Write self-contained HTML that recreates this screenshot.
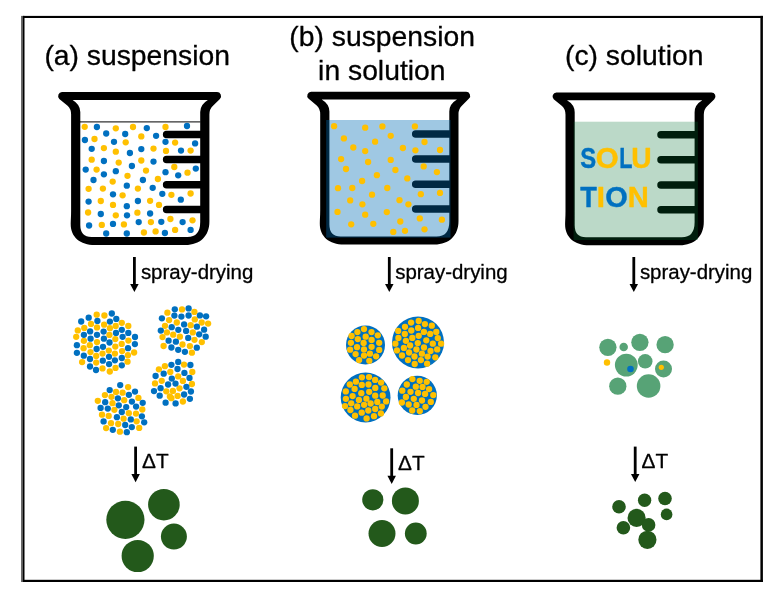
<!DOCTYPE html>
<html lang="en">
<head>
<meta charset="utf-8">
<title>Spray-drying routes: suspension, suspension in solution, solution</title>
<style>
  html, body { margin: 0; padding: 0; background: #fff; }
  body { width: 773px; height: 593px; overflow: hidden; }
  svg { display: block; will-change: transform; }
  text { font-family: "Liberation Sans", Arial, Helvetica, sans-serif; fill: #000; stroke: #000; stroke-width: 0.3px; stroke-linejoin: round; }
  .title { font-size: 28.3px; }
  .label { font-size: 20.45px; }
  .dt { font-size: 20.8px; }
  .sol text { font-weight: bold; font-size: 29.6px; stroke-width: 0.45px; }
</style>
</head>
<body>
<svg width="773" height="593" viewBox="0 0 773 593" role="img" aria-label="Spray-drying of a suspension, a suspension in solution, and a solution">
  <rect width="773" height="593" fill="#fff"/>
  <g id="frame">
    <rect x="21" y="15.9" width="2.4" height="566.1" fill="#6a6a6a"/>
    <rect x="22.9" y="15.9" width="740" height="2.1" fill="#000"/>
    <rect x="22.9" y="579.8" width="740" height="2.2" fill="#000"/>
    <rect x="22.9" y="15.9" width="1.6" height="566.1" fill="#000"/>
    <rect x="760.4" y="15.9" width="2.5" height="566.1" fill="#000"/>
  </g>

  <text class="title" x="44.4" y="65">(a) suspension</text>
  <text class="title" x="289.3" y="46">(b) suspension</text>
  <text class="title" x="318.1" y="80">in solution</text>
  <text class="title" x="565" y="65">(c) solution</text>
  <g id="col-a">
    <path d="M80 121.8H200.5" stroke="#333" stroke-width="1.3" fill="none"/>
    <g fill="#FFC000">
      <circle cx="84.7" cy="126.8" r="3.15"/><circle cx="115.8" cy="128.3" r="3.15"/><circle cx="133" cy="127" r="3.15"/><circle cx="165.5" cy="127" r="3.15"/><circle cx="141.3" cy="136.4" r="3.15"/><circle cx="94.5" cy="139" r="3.15"/><circle cx="125.7" cy="142.3" r="3.15"/><circle cx="175.1" cy="142.6" r="3.15"/><circle cx="103.9" cy="148.1" r="3.15"/><circle cx="115.8" cy="151.7" r="3.15"/><circle cx="153.5" cy="148.6" r="3.15"/><circle cx="166" cy="150.9" r="3.15"/><circle cx="190.6" cy="150.6" r="3.15"/><circle cx="91.7" cy="159.7" r="3.15"/><circle cx="118.7" cy="162.6" r="3.15"/><circle cx="141.3" cy="160.5" r="3.15"/><circle cx="174.3" cy="167" r="3.15"/><circle cx="96.6" cy="169.6" r="3.15"/><circle cx="127.5" cy="175.8" r="3.15"/><circle cx="146" cy="170.6" r="3.15"/><circle cx="187.5" cy="172.7" r="3.15"/><circle cx="112.7" cy="181.6" r="3.15"/><circle cx="157.9" cy="179" r="3.15"/><circle cx="88.6" cy="188.8" r="3.15"/><circle cx="102.9" cy="188.6" r="3.15"/><circle cx="137.9" cy="188.6" r="3.15"/><circle cx="171.4" cy="194.8" r="3.15"/><circle cx="190.6" cy="193.5" r="3.15"/><circle cx="122.6" cy="195.3" r="3.15"/><circle cx="100.8" cy="201" r="3.15"/><circle cx="113" cy="204.9" r="3.15"/><circle cx="150.1" cy="200.8" r="3.15"/><circle cx="159" cy="204.9" r="3.15"/><circle cx="88.1" cy="212.5" r="3.15"/><circle cx="115.8" cy="215.3" r="3.15"/><circle cx="137.4" cy="212.7" r="3.15"/><circle cx="170.4" cy="219" r="3.15"/><circle cx="192.5" cy="220.3" r="3.15"/><circle cx="101.8" cy="224.9" r="3.15"/><circle cx="123.9" cy="224.4" r="3.15"/><circle cx="150.9" cy="222.1" r="3.15"/><circle cx="175.1" cy="229.9" r="3.15"/><circle cx="143.9" cy="232.5" r="3.15"/><circle cx="155.6" cy="231.4" r="3.15"/>
    </g>
    <g fill="#0070C0">
      <circle cx="96.9" cy="127" r="3.15"/><circle cx="146.8" cy="128.1" r="3.15"/><circle cx="187" cy="126" r="3.15"/><circle cx="106.2" cy="133.5" r="3.15"/><circle cx="125.2" cy="134" r="3.15"/><circle cx="156.1" cy="135.8" r="3.15"/><circle cx="84.9" cy="140" r="3.15"/><circle cx="114" cy="141.8" r="3.15"/><circle cx="165.5" cy="141.8" r="3.15"/><circle cx="195.1" cy="143.4" r="3.15"/><circle cx="91.7" cy="148.8" r="3.15"/><circle cx="129.9" cy="153" r="3.15"/><circle cx="141.3" cy="149.1" r="3.15"/><circle cx="181" cy="150.6" r="3.15"/><circle cx="103.9" cy="161" r="3.15"/><circle cx="131.9" cy="166" r="3.15"/><circle cx="153.5" cy="161.6" r="3.15"/><circle cx="195.8" cy="168.6" r="3.15"/><circle cx="85.7" cy="169.6" r="3.15"/><circle cx="103.9" cy="174.3" r="3.15"/><circle cx="115.8" cy="171.2" r="3.15"/><circle cx="165.5" cy="172.2" r="3.15"/><circle cx="178.2" cy="175.3" r="3.15"/><circle cx="93.5" cy="180" r="3.15"/><circle cx="142.9" cy="180" r="3.15"/><circle cx="126.8" cy="185.7" r="3.15"/><circle cx="152.7" cy="187.8" r="3.15"/><circle cx="162.3" cy="193.8" r="3.15"/><circle cx="113" cy="194.3" r="3.15"/><circle cx="88.6" cy="201.6" r="3.15"/><circle cx="126.8" cy="206.2" r="3.15"/><circle cx="137.9" cy="201" r="3.15"/><circle cx="180.8" cy="199.7" r="3.15"/><circle cx="100.8" cy="214" r="3.15"/><circle cx="127" cy="215.3" r="3.15"/><circle cx="150.1" cy="213.5" r="3.15"/><circle cx="89.1" cy="225.5" r="3.15"/><circle cx="113" cy="223.9" r="3.15"/><circle cx="138.7" cy="222.1" r="3.15"/><circle cx="161.3" cy="221.8" r="3.15"/><circle cx="182.6" cy="222.1" r="3.15"/><circle cx="190.6" cy="229.9" r="3.15"/><circle cx="106.2" cy="233.5" r="3.15"/><circle cx="126.8" cy="233.5" r="3.15"/><circle cx="164.9" cy="233" r="3.15"/>
    </g>
    <g class="beaker"><path fill="#000" fill-rule="evenodd" d="M62 92.1H217A4 4 0 0 1 219.9 98.9L213 105.8Q209.4 109 209.4 114.5V221.5C209.4 236 200 245 185.4 245H95C80 245 70.7 237 70.7 224C70.7 220 71.1 217 71.1 211V114.5Q71.1 109 67.6 105.8L59.3 98.9A4 4 0 0 1 62 92.1ZM72.6 100Q80.3 104.5 80.3 112V225Q80.3 237 91.5 237H187.4Q200.2 237 200.2 222V112Q200.2 104.5 207.9 100Z"/><path fill="none" stroke="#000" stroke-width="7.5" stroke-linecap="round" d="M166.6 134.4H202M166.6 159.5H202M166.6 184.7H202M166.6 209.4H202"/></g>
    <path d="M134.4 257V285.0" stroke="#000" stroke-width="2.8" fill="none"/><path d="M130.15 284.0H138.65L134.4 292.1Z" fill="#000"/>
    <text class="label" x="140.9" y="278.6">spray-drying</text>
    <g fill="#FFC000">
      <circle cx="96.7" cy="314.7" r="3.15"/><circle cx="104.4" cy="315.5" r="3.15"/><circle cx="91" cy="323.9" r="3.15"/><circle cx="104.1" cy="324.7" r="3.15"/><circle cx="121.8" cy="322.8" r="3.15"/><circle cx="84.3" cy="327.9" r="3.15"/><circle cx="97" cy="327.4" r="3.15"/><circle cx="109.9" cy="328.2" r="3.15"/><circle cx="115.7" cy="325.9" r="3.15"/><circle cx="128.3" cy="325.9" r="3.15"/><circle cx="77.8" cy="330.4" r="3.15"/><circle cx="109.4" cy="334.9" r="3.15"/><circle cx="76.2" cy="336.8" r="3.15"/><circle cx="115.3" cy="339.1" r="3.15"/><circle cx="83.9" cy="340.8" r="3.15"/><circle cx="97" cy="342.1" r="3.15"/><circle cx="128.4" cy="340.6" r="3.15"/><circle cx="89.8" cy="345.2" r="3.15"/><circle cx="115.3" cy="346.6" r="3.15"/><circle cx="121.7" cy="343.9" r="3.15"/><circle cx="83.6" cy="348.2" r="3.15"/><circle cx="108.8" cy="350.6" r="3.15"/><circle cx="90.5" cy="352.1" r="3.15"/><circle cx="102.5" cy="353.6" r="3.15"/><circle cx="114.9" cy="353.6" r="3.15"/><circle cx="122.1" cy="351.1" r="3.15"/><circle cx="134.1" cy="352.5" r="3.15"/><circle cx="96.2" cy="356" r="3.15"/><circle cx="127.9" cy="355.2" r="3.15"/><circle cx="82.1" cy="362.1" r="3.15"/><circle cx="96.2" cy="362.6" r="3.15"/><circle cx="127.5" cy="361.7" r="3.15"/><circle cx="102.5" cy="368.4" r="3.15"/><circle cx="115.5" cy="367.9" r="3.15"/><circle cx="109.8" cy="371.5" r="3.15"/>
    </g>
    <g fill="#0070C0">
      <circle cx="111.8" cy="313.5" r="3.15"/><circle cx="88.7" cy="317.7" r="3.15"/><circle cx="116.3" cy="318.9" r="3.15"/><circle cx="81.2" cy="321.5" r="3.15"/><circle cx="97.4" cy="320.9" r="3.15"/><circle cx="109.9" cy="321.6" r="3.15"/><circle cx="90.1" cy="331.4" r="3.15"/><circle cx="103.6" cy="331.6" r="3.15"/><circle cx="116" cy="332.9" r="3.15"/><circle cx="121.8" cy="329.8" r="3.15"/><circle cx="128.3" cy="332.9" r="3.15"/><circle cx="83.9" cy="334.8" r="3.15"/><circle cx="97" cy="334.8" r="3.15"/><circle cx="122.6" cy="336.8" r="3.15"/><circle cx="90.6" cy="338.7" r="3.15"/><circle cx="103.9" cy="338.7" r="3.15"/><circle cx="135" cy="337" r="3.15"/><circle cx="109.5" cy="342.5" r="3.15"/><circle cx="76.9" cy="345.2" r="3.15"/><circle cx="103" cy="346.8" r="3.15"/><circle cx="134.9" cy="344.1" r="3.15"/><circle cx="96.6" cy="349" r="3.15"/><circle cx="128" cy="348.2" r="3.15"/><circle cx="76.9" cy="352.8" r="3.15"/><circle cx="83.8" cy="355.7" r="3.15"/><circle cx="109" cy="356.8" r="3.15"/><circle cx="90" cy="359" r="3.15"/><circle cx="102.8" cy="360.7" r="3.15"/><circle cx="114.9" cy="360.3" r="3.15"/><circle cx="121.8" cy="358" r="3.15"/><circle cx="109.1" cy="364.1" r="3.15"/><circle cx="90" cy="366.5" r="3.15"/><circle cx="121.8" cy="365.3" r="3.15"/><circle cx="96" cy="370" r="3.15"/>
    </g>
    <g fill="#FFC000">
      <circle cx="167.4" cy="312.7" r="3.15"/><circle cx="182" cy="309.4" r="3.15"/><circle cx="194.4" cy="311.9" r="3.15"/><circle cx="169.1" cy="320.1" r="3.15"/><circle cx="176.8" cy="322.5" r="3.15"/><circle cx="194.8" cy="319.4" r="3.15"/><circle cx="201.7" cy="322.5" r="3.15"/><circle cx="208.1" cy="323.6" r="3.15"/><circle cx="165" cy="325.8" r="3.15"/><circle cx="190.7" cy="325.2" r="3.15"/><circle cx="166.9" cy="332.4" r="3.15"/><circle cx="173.2" cy="334.7" r="3.15"/><circle cx="192.8" cy="332.4" r="3.15"/><circle cx="162.5" cy="337.1" r="3.15"/><circle cx="179.9" cy="336.7" r="3.15"/><circle cx="194.5" cy="339.8" r="3.15"/><circle cx="201.8" cy="342.1" r="3.15"/><circle cx="163.6" cy="346" r="3.15"/><circle cx="182.5" cy="344.5" r="3.15"/><circle cx="189.9" cy="346.1" r="3.15"/><circle cx="191.9" cy="352.7" r="3.15"/>
    </g>
    <g fill="#0070C0">
      <circle cx="174.8" cy="309.3" r="3.15"/><circle cx="188.6" cy="308.4" r="3.15"/><circle cx="161.9" cy="318.3" r="3.15"/><circle cx="174.4" cy="315.6" r="3.15"/><circle cx="181.4" cy="316.6" r="3.15"/><circle cx="188.6" cy="315.5" r="3.15"/><circle cx="199.9" cy="315.4" r="3.15"/><circle cx="206.1" cy="316.3" r="3.15"/><circle cx="171.7" cy="327.2" r="3.15"/><circle cx="184.1" cy="324.4" r="3.15"/><circle cx="196.9" cy="326.7" r="3.15"/><circle cx="160.8" cy="330.6" r="3.15"/><circle cx="178.3" cy="329.8" r="3.15"/><circle cx="186.1" cy="330.9" r="3.15"/><circle cx="204.1" cy="329.7" r="3.15"/><circle cx="199.2" cy="334.3" r="3.15"/><circle cx="188.2" cy="337.9" r="3.15"/><circle cx="205.7" cy="336.7" r="3.15"/><circle cx="168.6" cy="340.7" r="3.15"/><circle cx="175.9" cy="341.7" r="3.15"/><circle cx="171.4" cy="347.5" r="3.15"/><circle cx="178.2" cy="349.8" r="3.15"/><circle cx="196.8" cy="347.7" r="3.15"/><circle cx="184.9" cy="351.8" r="3.15"/>
    </g>
    <g fill="#FFC000">
      <circle cx="184" cy="364.6" r="3.15"/><circle cx="164.9" cy="366.2" r="3.15"/><circle cx="158.9" cy="369.3" r="3.15"/><circle cx="192.3" cy="372" r="3.15"/><circle cx="170.3" cy="372" r="3.15"/><circle cx="178.2" cy="376.4" r="3.15"/><circle cx="161.7" cy="380.8" r="3.15"/><circle cx="182.9" cy="380.9" r="3.15"/><circle cx="155" cy="383.4" r="3.15"/><circle cx="191.9" cy="384" r="3.15"/><circle cx="179.5" cy="388.3" r="3.15"/><circle cx="166.3" cy="391.3" r="3.15"/><circle cx="172.9" cy="390.9" r="3.15"/><circle cx="169.9" cy="396.5" r="3.15"/><circle cx="171.4" cy="398.2" r="3.15"/><circle cx="177.6" cy="395.9" r="3.15"/><circle cx="182.9" cy="401.5" r="3.15"/>
    </g>
    <g fill="#0070C0">
      <circle cx="178.2" cy="361.9" r="3.15"/><circle cx="171.4" cy="364.8" r="3.15"/><circle cx="190.4" cy="365" r="3.15"/><circle cx="177.5" cy="369" r="3.15"/><circle cx="163.7" cy="373.7" r="3.15"/><circle cx="184.4" cy="372.9" r="3.15"/><circle cx="155.6" cy="376" r="3.15"/><circle cx="189.5" cy="377.9" r="3.15"/><circle cx="171.8" cy="378.6" r="3.15"/><circle cx="168.1" cy="384.5" r="3.15"/><circle cx="175.5" cy="383.6" r="3.15"/><circle cx="160.6" cy="388.2" r="3.15"/><circle cx="186.4" cy="386.8" r="3.15"/><circle cx="154" cy="391.1" r="3.15"/><circle cx="190.9" cy="391.5" r="3.15"/><circle cx="159.7" cy="395.7" r="3.15"/><circle cx="184.1" cy="394.5" r="3.15"/><circle cx="189.9" cy="398.8" r="3.15"/><circle cx="165.6" cy="402.7" r="3.15"/><circle cx="175.6" cy="403.4" r="3.15"/>
    </g>
    <g fill="#FFC000">
      <circle cx="128.1" cy="387.1" r="3.15"/><circle cx="116" cy="391.9" r="3.15"/><circle cx="122.6" cy="392.7" r="3.15"/><circle cx="104.9" cy="395.1" r="3.15"/><circle cx="111.5" cy="396.8" r="3.15"/><circle cx="138.4" cy="397.9" r="3.15"/><circle cx="97.8" cy="400.8" r="3.15"/><circle cx="112.5" cy="403.2" r="3.15"/><circle cx="124.2" cy="400.2" r="3.15"/><circle cx="114.4" cy="409.8" r="3.15"/><circle cx="142.3" cy="409.5" r="3.15"/><circle cx="102" cy="414.7" r="3.15"/><circle cx="108.7" cy="415.9" r="3.15"/><circle cx="128.8" cy="413.2" r="3.15"/><circle cx="136" cy="413.6" r="3.15"/><circle cx="123.6" cy="418.7" r="3.15"/><circle cx="136.6" cy="421.3" r="3.15"/><circle cx="111" cy="423.2" r="3.15"/><circle cx="118.2" cy="424" r="3.15"/><circle cx="106.1" cy="428.1" r="3.15"/><circle cx="139.2" cy="427.9" r="3.15"/><circle cx="119.9" cy="431.7" r="3.15"/>
    </g>
    <g fill="#0070C0">
      <circle cx="120.2" cy="385.1" r="3.15"/><circle cx="109.7" cy="390.1" r="3.15"/><circle cx="135" cy="391.6" r="3.15"/><circle cx="128.9" cy="394.8" r="3.15"/><circle cx="117.9" cy="398.3" r="3.15"/><circle cx="105.2" cy="402.2" r="3.15"/><circle cx="131.9" cy="401.6" r="3.15"/><circle cx="142.7" cy="402.8" r="3.15"/><circle cx="100.6" cy="407.9" r="3.15"/><circle cx="107.8" cy="408.6" r="3.15"/><circle cx="118.8" cy="405.3" r="3.15"/><circle cx="126.2" cy="407.1" r="3.15"/><circle cx="136.1" cy="406.6" r="3.15"/><circle cx="121.8" cy="412" r="3.15"/><circle cx="116.9" cy="417.2" r="3.15"/><circle cx="141.9" cy="416.3" r="3.15"/><circle cx="103.6" cy="421.4" r="3.15"/><circle cx="130.8" cy="419.4" r="3.15"/><circle cx="144.2" cy="422.3" r="3.15"/><circle cx="125.2" cy="425" r="3.15"/><circle cx="112.8" cy="429.8" r="3.15"/><circle cx="131.8" cy="427.1" r="3.15"/><circle cx="126.8" cy="432.2" r="3.15"/>
    </g>
    <path d="M135.6 446.6V475.09999999999997" stroke="#000" stroke-width="2.8" fill="none"/><path d="M131.35 474.09999999999997H139.85L135.6 482.2Z" fill="#000"/>
    <text class="dt" x="142" y="468.3">ΔT</text>
    <g fill="#23591B"><circle cx="125.4" cy="519.8" r="19.1"/><circle cx="163.9" cy="504.7" r="15.8"/><circle cx="173.9" cy="536.6" r="13"/><circle cx="137.7" cy="556" r="16.1"/></g>
  </g>
  <g id="col-b">
    <g class="beaker" transform="translate(249.1 -0.4)"><path fill="#000" fill-rule="evenodd" d="M62 92.1H217A4 4 0 0 1 219.9 98.9L213 105.8Q209.4 109 209.4 114.5V221.5C209.4 236 200 245 185.4 245H95C80 245 70.7 237 70.7 224C70.7 220 71.1 217 71.1 211V114.5Q71.1 109 67.6 105.8L59.3 98.9A4 4 0 0 1 62 92.1ZM72.6 100Q80.3 104.5 80.3 112V225Q80.3 237 91.5 237H187.4Q200.2 237 200.2 222V112Q200.2 104.5 207.9 100Z"/><path fill="none" stroke="#000" stroke-width="7.5" stroke-linecap="round" d="M166.6 134.4H202M166.6 159.5H202M166.6 184.7H202M166.6 209.4H202"/></g>
    <rect x="326.2" y="120" width="124.3" height="117.6" fill="#006DB5" fill-opacity="0.376"/>
    <g fill="#FFC000">
      <circle cx="334.1" cy="126.2" r="3.15"/><circle cx="365.2" cy="127.7" r="3.15"/><circle cx="382.4" cy="126.4" r="3.15"/><circle cx="414.9" cy="126.4" r="3.15"/><circle cx="390.7" cy="135.8" r="3.15"/><circle cx="343.9" cy="138.4" r="3.15"/><circle cx="375.1" cy="141.7" r="3.15"/><circle cx="424.5" cy="142" r="3.15"/><circle cx="353.3" cy="147.5" r="3.15"/><circle cx="365.2" cy="151.1" r="3.15"/><circle cx="402.9" cy="148" r="3.15"/><circle cx="415.4" cy="150.3" r="3.15"/><circle cx="440" cy="150" r="3.15"/><circle cx="341.1" cy="159.1" r="3.15"/><circle cx="368.1" cy="162" r="3.15"/><circle cx="390.7" cy="159.9" r="3.15"/><circle cx="423.7" cy="166.4" r="3.15"/><circle cx="346" cy="169" r="3.15"/><circle cx="376.9" cy="175.2" r="3.15"/><circle cx="395.4" cy="170" r="3.15"/><circle cx="436.9" cy="172.1" r="3.15"/><circle cx="362.1" cy="181" r="3.15"/><circle cx="407.3" cy="178.4" r="3.15"/><circle cx="338" cy="188.2" r="3.15"/><circle cx="352.3" cy="188" r="3.15"/><circle cx="387.3" cy="188" r="3.15"/><circle cx="420.8" cy="194.2" r="3.15"/><circle cx="440" cy="192.9" r="3.15"/><circle cx="372" cy="194.7" r="3.15"/><circle cx="350.2" cy="200.4" r="3.15"/><circle cx="362.4" cy="204.3" r="3.15"/><circle cx="399.5" cy="200.2" r="3.15"/><circle cx="408.4" cy="204.3" r="3.15"/><circle cx="337.5" cy="211.9" r="3.15"/><circle cx="365.2" cy="214.7" r="3.15"/><circle cx="386.8" cy="212.1" r="3.15"/><circle cx="419.8" cy="218.4" r="3.15"/><circle cx="441.9" cy="219.7" r="3.15"/><circle cx="351.2" cy="224.3" r="3.15"/><circle cx="373.3" cy="223.8" r="3.15"/><circle cx="400.3" cy="221.5" r="3.15"/><circle cx="424.5" cy="229.3" r="3.15"/><circle cx="393.3" cy="231.9" r="3.15"/><circle cx="405" cy="230.8" r="3.15"/>
    </g>
    <path d="M389.3 257V285.0" stroke="#000" stroke-width="2.8" fill="none"/><path d="M385.05 284.0H393.55L389.3 292.1Z" fill="#000"/>
    <text class="label" x="395.2" y="278.5">spray-drying</text>
    <g fill="#0070C0"><circle cx="365.5" cy="345" r="19.5"/><circle cx="418" cy="342.4" r="26"/><circle cx="365.6" cy="397.5" r="24.9"/><circle cx="417.3" cy="395.4" r="19.6"/></g>
    <g fill="#FFC000">
      <circle cx="364" cy="329.1" r="3.15"/><circle cx="357.4" cy="332.1" r="3.15"/><circle cx="371.5" cy="332.1" r="3.15"/><circle cx="377.8" cy="335.3" r="3.15"/><circle cx="351.6" cy="336" r="3.15"/><circle cx="365.7" cy="336.7" r="3.15"/><circle cx="357.8" cy="339.1" r="3.15"/><circle cx="371.6" cy="339.9" r="3.15"/><circle cx="350.9" cy="342.8" r="3.15"/><circle cx="363.6" cy="342.9" r="3.15"/><circle cx="379.2" cy="342.8" r="3.15"/><circle cx="357" cy="347.2" r="3.15"/><circle cx="371.6" cy="346.8" r="3.15"/><circle cx="350.1" cy="349.7" r="3.15"/><circle cx="364" cy="349.4" r="3.15"/><circle cx="379.2" cy="349.9" r="3.15"/><circle cx="355.6" cy="354.1" r="3.15"/><circle cx="369.9" cy="353.7" r="3.15"/><circle cx="364" cy="355.6" r="3.15"/><circle cx="376.1" cy="356.3" r="3.15"/><circle cx="359.1" cy="360.1" r="3.15"/><circle cx="369.3" cy="360.8" r="3.15"/>
    </g>
    <g fill="#FFC000">
      <circle cx="418.7" cy="321" r="3.15"/><circle cx="411.1" cy="322.6" r="3.15"/><circle cx="424.9" cy="324.1" r="3.15"/><circle cx="431.8" cy="325.7" r="3.15"/><circle cx="405" cy="326.8" r="3.15"/><circle cx="418.1" cy="327.9" r="3.15"/><circle cx="398.2" cy="330.9" r="3.15"/><circle cx="411.3" cy="330.5" r="3.15"/><circle cx="423.9" cy="331.9" r="3.15"/><circle cx="436.3" cy="331.9" r="3.15"/><circle cx="404.8" cy="334" r="3.15"/><circle cx="430.2" cy="333.9" r="3.15"/><circle cx="418.7" cy="335.8" r="3.15"/><circle cx="398.4" cy="338" r="3.15"/><circle cx="412.3" cy="337.9" r="3.15"/><circle cx="437.8" cy="338.1" r="3.15"/><circle cx="405.9" cy="340.8" r="3.15"/><circle cx="426.3" cy="340.3" r="3.15"/><circle cx="395.4" cy="343.7" r="3.15"/><circle cx="417.8" cy="343.1" r="3.15"/><circle cx="432.8" cy="343.7" r="3.15"/><circle cx="441.1" cy="343.7" r="3.15"/><circle cx="410.1" cy="345.5" r="3.15"/><circle cx="403.9" cy="347.9" r="3.15"/><circle cx="424" cy="347.5" r="3.15"/><circle cx="396.9" cy="350.4" r="3.15"/><circle cx="416.4" cy="349.5" r="3.15"/><circle cx="437.2" cy="349.4" r="3.15"/><circle cx="430.5" cy="351" r="3.15"/><circle cx="409.1" cy="352.5" r="3.15"/><circle cx="421.9" cy="353.7" r="3.15"/><circle cx="402" cy="355.5" r="3.15"/><circle cx="427.6" cy="356.6" r="3.15"/><circle cx="414.5" cy="356.5" r="3.15"/><circle cx="435.3" cy="357.3" r="3.15"/><circle cx="408" cy="360.1" r="3.15"/><circle cx="420.9" cy="360.1" r="3.15"/><circle cx="414.7" cy="364" r="3.15"/><circle cx="427.1" cy="363.7" r="3.15"/>
    </g>
    <g fill="#FFC000">
      <circle cx="361.9" cy="377.3" r="3.15"/><circle cx="369" cy="377.1" r="3.15"/><circle cx="375.1" cy="379.9" r="3.15"/><circle cx="355.9" cy="381.7" r="3.15"/><circle cx="381.1" cy="382.6" r="3.15"/><circle cx="349.8" cy="384.5" r="3.15"/><circle cx="361.8" cy="384.9" r="3.15"/><circle cx="368.5" cy="384.5" r="3.15"/><circle cx="375.3" cy="387.9" r="3.15"/><circle cx="384.3" cy="388.3" r="3.15"/><circle cx="354.6" cy="388.9" r="3.15"/><circle cx="345.8" cy="391.4" r="3.15"/><circle cx="369.2" cy="391.8" r="3.15"/><circle cx="361.3" cy="393.2" r="3.15"/><circle cx="375.2" cy="395.7" r="3.15"/><circle cx="382.7" cy="395.5" r="3.15"/><circle cx="352.6" cy="396.1" r="3.15"/><circle cx="345.9" cy="398.8" r="3.15"/><circle cx="366.4" cy="398.7" r="3.15"/><circle cx="358.9" cy="399.9" r="3.15"/><circle cx="386.1" cy="401.4" r="3.15"/><circle cx="377.3" cy="402" r="3.15"/><circle cx="351.2" cy="403.3" r="3.15"/><circle cx="370.6" cy="403.5" r="3.15"/><circle cx="364.1" cy="404.8" r="3.15"/><circle cx="345" cy="406.1" r="3.15"/><circle cx="357.2" cy="406.4" r="3.15"/><circle cx="381.8" cy="406.6" r="3.15"/><circle cx="375.2" cy="409" r="3.15"/><circle cx="350.4" cy="410" r="3.15"/><circle cx="368.3" cy="410.5" r="3.15"/><circle cx="361.7" cy="412.7" r="3.15"/><circle cx="380.9" cy="413.4" r="3.15"/><circle cx="355" cy="415.7" r="3.15"/><circle cx="374" cy="416.2" r="3.15"/><circle cx="366.6" cy="418.4" r="3.15"/>
    </g>
    <g fill="#FFC000">
      <circle cx="412.4" cy="379.1" r="3.15"/><circle cx="419.7" cy="380.8" r="3.15"/><circle cx="426.7" cy="381.8" r="3.15"/><circle cx="406.8" cy="384.5" r="3.15"/><circle cx="415.8" cy="386.7" r="3.15"/><circle cx="422.5" cy="386.9" r="3.15"/><circle cx="429.1" cy="389.1" r="3.15"/><circle cx="402.3" cy="390.7" r="3.15"/><circle cx="410.5" cy="391.8" r="3.15"/><circle cx="418.1" cy="393" r="3.15"/><circle cx="425.1" cy="393.9" r="3.15"/><circle cx="433.3" cy="395.1" r="3.15"/><circle cx="405.9" cy="397" r="3.15"/><circle cx="413.8" cy="398.8" r="3.15"/><circle cx="422" cy="400.5" r="3.15"/><circle cx="401.9" cy="402.5" r="3.15"/><circle cx="430.8" cy="401.9" r="3.15"/><circle cx="408.7" cy="404.5" r="3.15"/><circle cx="416.5" cy="404.9" r="3.15"/><circle cx="425.5" cy="406.8" r="3.15"/><circle cx="412.2" cy="410.5" r="3.15"/><circle cx="419.8" cy="411.1" r="3.15"/>
    </g>
    <path d="M391.7 448.3V476.79999999999995" stroke="#000" stroke-width="2.8" fill="none"/><path d="M387.45 475.79999999999995H395.95L391.7 483.9Z" fill="#000"/>
    <text class="dt" x="398" y="469.8">ΔT</text>
    <g fill="#23591B"><circle cx="372.8" cy="499.8" r="10.6"/><circle cx="405.4" cy="500.9" r="13.5"/><circle cx="382" cy="533.5" r="13.5"/><circle cx="415.8" cy="533.5" r="10.9"/></g>
  </g>
  <g id="col-c">
    <g class="beaker" transform="translate(494.4 0.3)"><path fill="#000" fill-rule="evenodd" d="M62 92.1H217A4 4 0 0 1 219.9 98.9L213 105.8Q209.4 109 209.4 114.5V221.5C209.4 236 200 245 185.4 245H95C80 245 70.7 237 70.7 224C70.7 220 71.1 217 71.1 211V114.5Q71.1 109 67.6 105.8L59.3 98.9A4 4 0 0 1 62 92.1ZM72.6 100Q80.3 104.5 80.3 112V225Q80.3 237 91.5 237H187.4Q200.2 237 200.2 222V112Q200.2 104.5 207.9 100Z"/><path fill="none" stroke="#000" stroke-width="7.5" stroke-linecap="round" d="M166.6 134.4H202M166.6 159.5H202M166.6 184.7H202M166.6 209.4H202"/></g>
    <rect x="573.6" y="121.7" width="124.3" height="118.3" fill="#00702F" fill-opacity="0.265"/>
    <g class="sol">
      <text transform="translate(580.28 168.0) scale(0.805 1)" style="fill:#0070C0;stroke:#0070C0">S</text>
      <text transform="translate(595.83 168.0) scale(0.992 1)" style="fill:#FFC000;stroke:#FFC000">O</text>
      <text transform="translate(619.20 168.0) scale(0.728 1)" style="fill:#0070C0;stroke:#0070C0">L</text>
      <text transform="translate(631.31 168.0) scale(0.952 1)" style="fill:#FFC000;stroke:#FFC000">U</text>
      <text transform="translate(580.33 207.0) scale(0.916 1)" style="fill:#0070C0;stroke:#0070C0">T</text>
      <text transform="translate(596.87 207.0) scale(1.002 1)" style="fill:#FFC000;stroke:#FFC000">I</text>
      <text transform="translate(605.24 207.0) scale(0.977 1)" style="fill:#0070C0;stroke:#0070C0">O</text>
      <text transform="translate(627.81 207.0) scale(0.985 1)" style="fill:#FFC000;stroke:#FFC000">N</text>
    </g>
    <path d="M633.8 257V285.0" stroke="#000" stroke-width="2.8" fill="none"/><path d="M629.55 284.0H638.05L633.8 292.1Z" fill="#000"/>
    <text class="label" x="639.9" y="278.5">spray-drying</text>
    <g fill="#57A376"><circle cx="607.9" cy="347.3" r="8.65"/><circle cx="623.7" cy="347" r="4.25"/><circle cx="639.9" cy="342.3" r="8.65"/><circle cx="665.1" cy="344.7" r="8.65"/><circle cx="626.3" cy="365.1" r="11.4"/><circle cx="645.2" cy="361.3" r="7.3"/><circle cx="663.5" cy="368.9" r="8.5"/><circle cx="617.8" cy="386.2" r="8.65"/><circle cx="648.6" cy="386" r="11.8"/></g>
    <circle cx="607" cy="362.5" r="3.2" fill="#FFC000"/><circle cx="630.5" cy="369" r="3.3" fill="#0070C0"/><circle cx="661.3" cy="367.3" r="2.6" fill="#FFC000"/>
    <path d="M635.2 446.6V474.9" stroke="#000" stroke-width="2.8" fill="none"/><path d="M630.95 473.9H639.45L635.2 482Z" fill="#000"/>
    <text class="dt" x="641.6" y="468.4">ΔT</text>
    <g fill="#23591B"><circle cx="619" cy="506.7" r="6.8"/><circle cx="644.6" cy="500.3" r="6.7"/><circle cx="665" cy="498.5" r="6.8"/><circle cx="666.6" cy="514.4" r="5.8"/><circle cx="636.6" cy="517.9" r="9.1"/><circle cx="648.6" cy="524.9" r="6.8"/><circle cx="623.4" cy="527.8" r="6.8"/><circle cx="647.4" cy="539.8" r="9.1"/></g>
  </g>
</svg>
</body>
</html>
